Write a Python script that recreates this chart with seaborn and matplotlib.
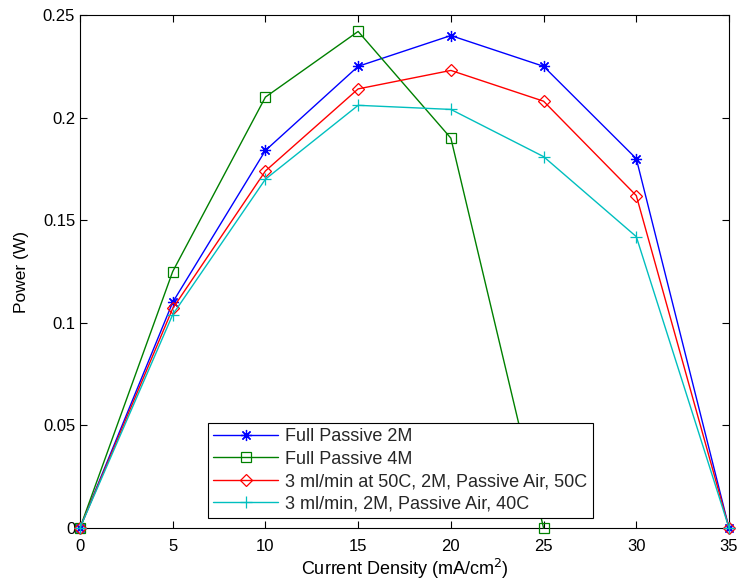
import matplotlib
matplotlib.use("Agg")
import matplotlib.pyplot as plt
import seaborn as sns
import pandas as pd

current = [0, 5, 10, 15, 20, 25, 30, 35]
full_passive_2m = [0, 0.110, 0.184, 0.225, 0.240, 0.225, 0.180, 0]
current_4m = [0, 5, 10, 15, 20, 25]
full_passive_4m = [0, 0.125, 0.210, 0.242, 0.190, 0]
ml_50c = [0, 0.107, 0.174, 0.214, 0.223, 0.208, 0.162, 0]
ml_40c = [0, 0.104, 0.170, 0.206, 0.204, 0.181, 0.142, 0]

labels = ["Full Passive 2M", "Full Passive 4M",
          "3 ml/min at 50C, 2M, Passive Air, 50C",
          "3 ml/min, 2M, Passive Air, 40C"]
xticks = [0, 5, 10, 15, 20, 25, 30, 35]
yticks = [0, 0.05, 0.1, 0.15, 0.2, 0.25]
yticklabels = ["0", "0.05", "0.1", "0.15", "0.2", "0.25"]

sns.set_theme(style="white")
plt.rcParams['font.family'] = ['Liberation Sans', 'DejaVu Sans']
plt.rcParams['xtick.direction'] = 'in'
plt.rcParams['ytick.direction'] = 'in'

fig = plt.figure(figsize=(7.42, 5.87), dpi=100)
ax = fig.add_axes([0.1078, 0.1005, 0.8747, 0.8739])

series = [
    (current, full_passive_2m, labels[0], (0, 0, 1), (8, 2, 0), 8),
    (current_4m, full_passive_4m, labels[1], (0, 0.5, 0), 's', 6.5),
    (current, ml_50c, labels[2], (1, 0, 0), 'D', 6.5),
    (current, ml_40c, labels[3], (0, 0.75, 0.75), '+', 8),
]
for xs, ys, lab, col, mk, ms in series:
    df = pd.DataFrame({"x": xs, "y": ys})
    sns.lineplot(data=df, x="x", y="y", ax=ax, color=col, label=lab,
                 marker=mk, markersize=ms, markerfacecolor='none',
                 markeredgecolor=col, markeredgewidth=0.9, linewidth=1.0,
                 clip_on=False, zorder=3)

ax.set_xlim(0, 35)
ax.set_ylim(0, 0.25)
ax.set_xticks(xticks)
ax.set_xticklabels([str(t) for t in xticks])
ax.set_yticks(yticks)
ax.set_yticklabels(yticklabels)
ax.tick_params(axis='both', labelsize=12, length=5, width=0.8, colors='black',
               top=True, right=True, bottom=True, left=True)
ax.tick_params(axis='x', pad=8)
for s in ax.spines.values():
    s.set_color('black')
    s.set_linewidth(0.8)
ax.set_xlabel("Current Density (mA/cm$^2$)", fontsize=13, color='black', labelpad=2)
ax.set_ylabel("Power (W)", fontsize=12.5, color='black', labelpad=10)

leg = ax.legend(loc='lower left', bbox_to_anchor=(0.197, 0.0195), fontsize=13,
                frameon=True, fancybox=False, framealpha=1, edgecolor='black',
                borderpad=0.3, labelspacing=0.3, handlelength=3.6, handletextpad=0.4,
                borderaxespad=0)
leg.get_frame().set_linewidth(0.8)
leg.set_zorder(10)

fig.savefig("out.png", dpi=100, facecolor='white')
